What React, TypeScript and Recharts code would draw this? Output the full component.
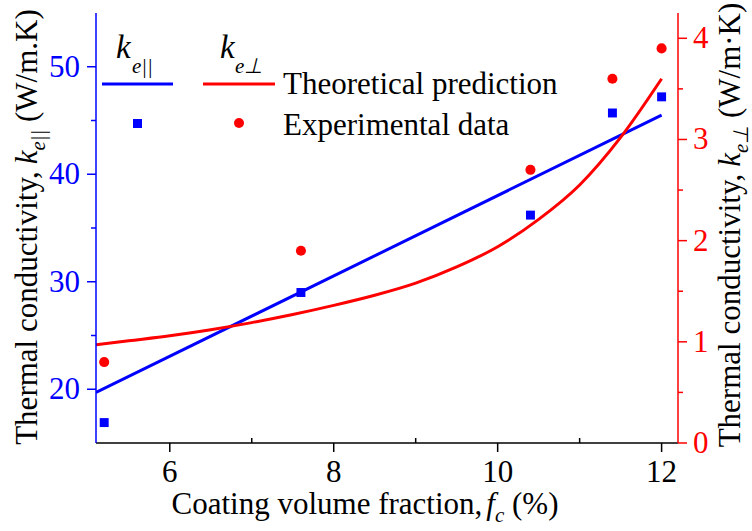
import React from 'react'
import { ComposedChart, Line, Scatter, XAxis, YAxis, ZAxis } from 'recharts'

// coating volume fraction (%)
const xTicks = [6, 7, 8, 9, 10, 11, 12]
const leftTicks = [20, 25, 30, 35, 40, 45, 50]
const rightTicks = [0, 0.5, 1, 1.5, 2, 2.5, 3, 3.5, 4]

// experimental data
const expX = [5.2, 7.6, 10.4, 11.4, 12]
const expPar = [16.9, 29.0, 36.2, 45.7, 47.2]
const expPerp = [0.8, 1.9, 2.7, 3.6, 3.9]

// theoretical prediction
const fitParX = [5.1, 12]
const fitParY = [19.7, 45.5]
const fitPerpX = [5.1, 5.5, 6, 6.5, 7, 7.5, 8, 8.5, 9, 9.5, 10, 10.5, 11, 11.5, 12]
const fitPerpY = [0.97, 1.01, 1.06, 1.12, 1.19, 1.27, 1.36, 1.46, 1.58, 1.74, 1.94, 2.21, 2.55, 3.02, 3.6]

const BLUE = '#0000ff'
const RED = '#ff0000'
const FONT = '"Liberation Serif", "Times New Roman", serif'
const FS = 31
const SUB = 21

const parPoints = expX.map((x, i) => ({ x, y: expPar[i] }))
const perpPoints = expX.map((x, i) => ({ x, y: expPerp[i] }))
const parLine = fitParX.map((x, i) => ({ x, y: fitParY[i] }))
const perpLine = fitPerpX.map((x, i) => ({ x, y: fitPerpY[i] }))

const BottomTick = (props: any) => {
  const { x, y, payload } = props
  const major = payload.value % 2 === 0
  return (
    <g>
      <line x1={x} x2={x} y1={y} y2={major ? y + 9 : y - 5} stroke="#000" strokeWidth={1.5} />
      {major && (
        <text x={x} y={y + 39} textAnchor="middle" fontSize={FS} fontFamily={FONT} fill="#000">
          {payload.value}
        </text>
      )}
    </g>
  )
}

const TopTick = (props: any) => {
  const { x, y, payload } = props
  const major = payload.value % 2 === 0
  return <line x1={x} x2={x} y1={y} y2={y + (major ? 9 : 5)} stroke="#000" strokeWidth={1.5} />
}

const LeftTick = (props: any) => {
  const { x, y, payload } = props
  const major = payload.value % 10 === 0
  return (
    <g>
      <line x1={x} x2={x - (major ? 9 : 5)} y1={y} y2={y} stroke={BLUE} strokeWidth={1.5} />
      {major && (
        <text x={x - 16} y={y + 10} textAnchor="end" fontSize={FS} fontFamily={FONT} fill={BLUE}>
          {payload.value}
        </text>
      )}
    </g>
  )
}

const RightTick = (props: any) => {
  const { x, y, payload } = props
  const major = payload.value % 1 === 0
  return (
    <g>
      <line x1={x} x2={x + (major ? 9 : 5)} y1={y} y2={y} stroke={RED} strokeWidth={1.5} />
      {major && (
        <text x={x + 15} y={y + 10} textAnchor="start" fontSize={FS} fontFamily={FONT} fill={RED}>
          {payload.value}
        </text>
      )}
    </g>
  )
}

function App(): React.JSX.Element {
  return (
    <div style={{ position: 'absolute', left: 0, top: 0, width: 752, height: 531, background: '#fff' }}>
      <ComposedChart width={752} height={531} margin={{ top: 13, right: 0, bottom: 0, left: 0 }}>
        <XAxis
          xAxisId="top"
          orientation="top"
          type="number"
          dataKey="x"
          domain={[5.1, 12.2]}
          allowDataOverflow
          ticks={xTicks}
          height={0}
          tickSize={0}
          tickMargin={0}
          tickLine={false}
          tick={<TopTick />}
          axisLine={{ stroke: '#000', strokeWidth: 1.5 }}
        />
        <XAxis
          xAxisId="x"
          type="number"
          dataKey="x"
          domain={[5.1, 12.2]}
          allowDataOverflow
          ticks={xTicks}
          height={88}
          tickSize={0}
          tickMargin={0}
          tickLine={false}
          tick={<BottomTick />}
          axisLine={{ stroke: '#000', strokeWidth: 1.5 }}
          interval={0}
        />
        <YAxis
          yAxisId="left"
          type="number"
          domain={[15, 55]}
          allowDataOverflow
          ticks={leftTicks}
          width={96}
          tickSize={0}
          tickMargin={0}
          tickLine={false}
          tick={<LeftTick />}
          axisLine={{ stroke: BLUE, strokeWidth: 1.5 }}
          interval={0}
        />
        <YAxis
          yAxisId="right"
          orientation="right"
          type="number"
          domain={[0, 4.25]}
          allowDataOverflow
          ticks={rightTicks}
          width={74}
          tickSize={0}
          tickMargin={0}
          tickLine={false}
          tick={<RightTick />}
          axisLine={{ stroke: RED, strokeWidth: 1.5 }}
          interval={0}
        />
        <ZAxis type="number" range={[80, 80]} />
        <Line
          data={parLine}
          dataKey="y"
          xAxisId="x"
          yAxisId="left"
          type="linear"
          stroke={BLUE}
          strokeWidth={3}
          dot={false}
          isAnimationActive={false}
        />
        <Line
          data={perpLine}
          dataKey="y"
          xAxisId="x"
          yAxisId="right"
          type="monotone"
          stroke={RED}
          strokeWidth={3}
          dot={false}
          isAnimationActive={false}
        />
        <Scatter
          data={parPoints}
          dataKey="y"
          xAxisId="x"
          yAxisId="left"
          shape="square"
          fill={BLUE}
          isAnimationActive={false}
        />
        <Scatter
          data={perpPoints}
          dataKey="y"
          xAxisId="x"
          yAxisId="right"
          shape="circle"
          fill={RED}
          isAnimationActive={false}
        />
      </ComposedChart>

      {/* titles and legend */}
      <svg
        width={752}
        height={531}
        style={{ position: 'absolute', left: 0, top: 0, pointerEvents: 'none' }}
        fontFamily={FONT}
      >
        <text x={365} y={514} textAnchor="middle" fontSize={FS} fill="#000">
          Coating volume fraction,
          <tspan fontStyle="italic" dx={4}>f</tspan>
          <tspan fontStyle="italic" fontSize={SUB} dy={8}>c</tspan>
          <tspan dy={-8}> (%)</tspan>
        </text>
        <text transform="translate(37,227) rotate(-90)" textAnchor="middle" fontSize={FS} fill="#000">
          Thermal conductivity,
          <tspan fontStyle="italic" dx={7}>k</tspan>
          <tspan fontStyle="italic" fontSize={SUB} dy={8}>e||</tspan>
          <tspan dy={-8}> (W/m.K)</tspan>
        </text>
        <text transform="translate(740,225) rotate(-90)" textAnchor="middle" fontSize={FS} fill="#000">
          Thermal conductivity,
          <tspan fontStyle="italic" dx={7}>k</tspan>
          <tspan fontStyle="italic" fontSize={SUB} dy={8}>e⊥</tspan>
          <tspan dy={-8}> (W/m·K)</tspan>
        </text>

        <text x={116} y={58} fontSize={33} fontStyle="italic" fill="#000">k</text>
        <text x={132} y={73} fontSize={SUB} fontStyle="italic" fill="#000">e||</text>
        <text x={220} y={58} fontSize={33} fontStyle="italic" fill="#000">k</text>
        <text x={235} y={73} fontSize={SUB} fontStyle="italic" fill="#000">e⊥</text>
        <line x1={102} x2={173} y1={84} y2={84} stroke={BLUE} strokeWidth={3} />
        <line x1={203} x2={275} y1={84} y2={84} stroke={RED} strokeWidth={3} />
        <rect x={133} y={119} width={9} height={9} fill={BLUE} />
        <circle cx={239} cy={123} r={5} fill={RED} />
        <text x={283} y={94} fontSize={FS} fill="#000">Theoretical prediction</text>
        <text x={283} y={135} fontSize={FS} fill="#000">Experimental data</text>
      </svg>
    </div>
  )
}

export default App
